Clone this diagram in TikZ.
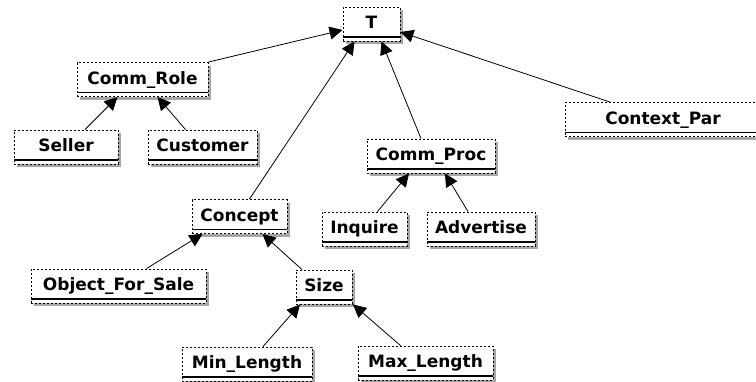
\documentclass[tikz,border=0pt]{standalone}
\usepackage{fontspec}
\setmainfont{DejaVu Sans}
\usetikzlibrary{arrows.meta,shadows}

\begin{document}
\begin{tikzpicture}[x=1pt,y=-1pt,
  cls/.style={draw,dash pattern=on 2pt off 2pt,line width=0.9pt,fill=white,
    inner sep=0pt,minimum height=34pt,text height=12.5pt,text depth=3pt,
    font=\fontsize{17}{20}\selectfont\bfseries,
    drop shadow={shadow xshift=3pt,shadow yshift=-3pt,fill=black!35,opacity=1},
    path picture={\draw[solid,line width=1.3pt]
      ([yshift=4pt]path picture bounding box.south west) --
      ([yshift=4pt]path picture bounding box.south east);}},
  isa/.style={-{Triangle[length=13pt,width=13pt]},line width=0.8pt}]
\useasboundingbox (0,0) rectangle (756,381);

\node[cls,minimum width=57pt] (T) at (371.5,24) {T};
\node[cls,minimum width=131pt] (CommRole) at (142.5,79.5) {Comm\_Role};
\node[cls,minimum width=104pt] (Seller) at (66,147) {Seller};
\node[cls,minimum width=109pt] (Customer) at (202.5,147) {Customer};
\node[cls,minimum width=196pt] (ContextPar) at (663,119.5) {Context\_Par};
\node[cls,minimum width=128pt] (CommProc) at (431,156) {Comm\_Proc};
\node[cls,minimum width=85pt] (Inquire) at (364.5,229) {Inquire};
\node[cls,minimum width=108pt] (Advertise) at (481,229) {Advertise};
\node[cls,minimum width=95pt] (Concept) at (239.5,216.5) {Concept};
\node[cls,minimum width=175pt] (ObjSale) at (118.5,286) {Object\_For\_Sale};
\node[cls,minimum width=56pt] (Size) at (324,287) {Size};
\node[cls,minimum width=130pt] (MinLen) at (247,364) {Min\_Length};
\node[cls,minimum width=135pt] (MaxLen) at (425.5,363) {Max\_Length};

% links to the root
\draw[isa] (CommRole.north east) -- ([yshift=-6pt]T.west);
\draw[isa] ([xshift=10pt]Concept.north) -- ([xshift=-17pt]T.south);
\draw[isa] ([xshift=-10pt]CommProc.north) -- ([xshift=10pt]T.south);
\draw[isa] ([xshift=-53pt]ContextPar.north) -- ([yshift=-8pt]T.east);
% links inside the branches
\draw[isa] ([xshift=19pt]Seller.north) -- ([xshift=-25pt]CommRole.south);
\draw[isa] ([xshift=-17pt]Customer.north) -- ([xshift=15pt]CommRole.south);
\draw[isa] ([xshift=13pt]Inquire.north) -- ([xshift=-22pt]CommProc.south);
\draw[isa] ([xshift=-13pt]Advertise.north) -- ([xshift=14pt]CommProc.south);
\draw[isa] ([xshift=28pt]ObjSale.north) -- ([xshift=-37pt]Concept.south);
\draw[isa] ([xshift=-22pt]Size.north) -- ([xshift=23pt]Concept.south);
\draw[isa] ([xshift=16pt]MinLen.north) -- ([xshift=-24pt]Size.south);
\draw[isa] ([xshift=-25pt]MaxLen.north) -- ([xshift=29pt]Size.south);
\end{tikzpicture}
\end{document}
